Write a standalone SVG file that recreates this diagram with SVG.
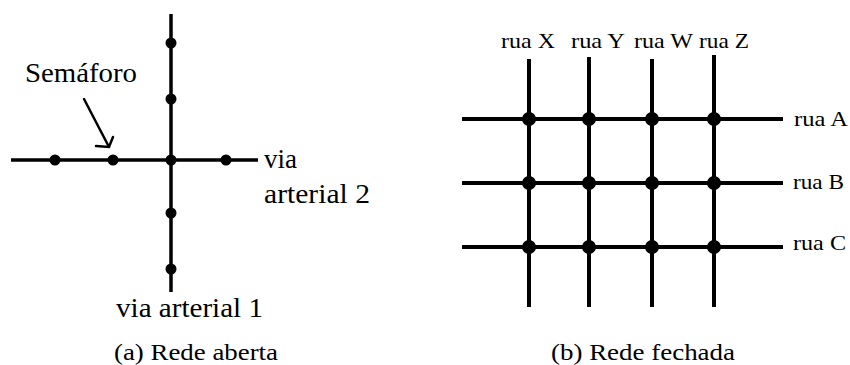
<svg xmlns="http://www.w3.org/2000/svg" width="850" height="365" viewBox="0 0 850 365">
  <style>
    .road { stroke: #000; stroke-width: 3.5; fill: none; }
    .street { stroke: #000; stroke-width: 4; fill: none; }
    .dot { fill: #000; }
    .node { fill: #000; }
    .arrow { stroke: #000; stroke-width: 2.5; fill: none; stroke-linecap: round; }
  </style>
  <rect width="850" height="365" fill="#fff"/>

  <!-- (a) open network: two arterial roads crossing -->
  <g id="connectors-a">
    <line class="road" x1="171" y1="14" x2="171" y2="292"/>
    <line class="road" x1="11" y1="160" x2="258" y2="160"/>
    <path class="arrow" d="M84 99 L109 147 M96 146 L109 147 L113 137"/>
  </g>
  <g id="signals-a">
    <circle class="dot" cx="171" cy="43" r="5.5"/>
    <circle class="dot" cx="171" cy="99" r="5.5"/>
    <circle class="dot" cx="55" cy="160" r="5.5"/>
    <circle class="dot" cx="113" cy="160" r="5.5"/>
    <circle class="dot" cx="171" cy="160" r="5.5"/>
    <circle class="dot" cx="226" cy="160" r="5.5"/>
    <circle class="dot" cx="171" cy="213" r="5.5"/>
    <circle class="dot" cx="171" cy="269" r="5.5"/>
  </g>
  <g id="labels-a" font-family="Liberation Serif, serif" fill="#000" lengthAdjust="spacingAndGlyphs">
    <text x="25" y="82" font-size="27" textLength="112" lengthAdjust="spacingAndGlyphs">Semáforo</text>
    <text x="264" y="168" font-size="27" textLength="33" lengthAdjust="spacingAndGlyphs">via</text>
    <text x="264" y="203" font-size="27" textLength="106" lengthAdjust="spacingAndGlyphs">arterial 2</text>
    <text x="116" y="317" font-size="27" textLength="147" lengthAdjust="spacingAndGlyphs">via arterial 1</text>
    <text x="114" y="360" font-size="24" textLength="164" lengthAdjust="spacingAndGlyphs">(a)  Rede aberta</text>
  </g>

  <!-- (b) closed network: street grid -->
  <g id="connectors-b">
    <line class="street" x1="529" y1="59" x2="529" y2="307"/>
    <line class="street" x1="589" y1="57" x2="589" y2="307"/>
    <line class="street" x1="652" y1="59" x2="652" y2="307"/>
    <line class="street" x1="714" y1="55" x2="714" y2="307"/>
    <line class="street" x1="462" y1="119" x2="783" y2="119"/>
    <line class="street" x1="462" y1="183" x2="783" y2="183"/>
    <line class="street" x1="462" y1="247" x2="783" y2="247"/>
  </g>
  <g id="intersections-b">
    <circle class="node" cx="529" cy="119" r="7"/>
    <circle class="node" cx="589" cy="119" r="7"/>
    <circle class="node" cx="652" cy="119" r="7"/>
    <circle class="node" cx="714" cy="119" r="7"/>
    <circle class="node" cx="529" cy="183" r="7"/>
    <circle class="node" cx="589" cy="183" r="7"/>
    <circle class="node" cx="652" cy="183" r="7"/>
    <circle class="node" cx="714" cy="183" r="7"/>
    <circle class="node" cx="529" cy="247" r="7"/>
    <circle class="node" cx="589" cy="247" r="7"/>
    <circle class="node" cx="652" cy="247" r="7"/>
    <circle class="node" cx="714" cy="247" r="7"/>
  </g>
  <g id="labels-b" font-family="Liberation Serif, serif" fill="#000">
    <text x="501" y="48" font-size="21" textLength="54" lengthAdjust="spacingAndGlyphs">rua X</text>
    <text x="571" y="48" font-size="21" textLength="54" lengthAdjust="spacingAndGlyphs">rua Y</text>
    <text x="634" y="48" font-size="21" textLength="59" lengthAdjust="spacingAndGlyphs">rua W</text>
    <text x="699" y="48" font-size="21" textLength="50" lengthAdjust="spacingAndGlyphs">rua Z</text>
    <text x="794" y="126" font-size="21" textLength="54" lengthAdjust="spacingAndGlyphs">rua A</text>
    <text x="793" y="189" font-size="21" textLength="51" lengthAdjust="spacingAndGlyphs">rua B</text>
    <text x="793" y="250" font-size="21" textLength="53" lengthAdjust="spacingAndGlyphs">rua C</text>
    <text x="551" y="360" font-size="24" textLength="184" lengthAdjust="spacingAndGlyphs">(b)  Rede fechada</text>
  </g>
</svg>
